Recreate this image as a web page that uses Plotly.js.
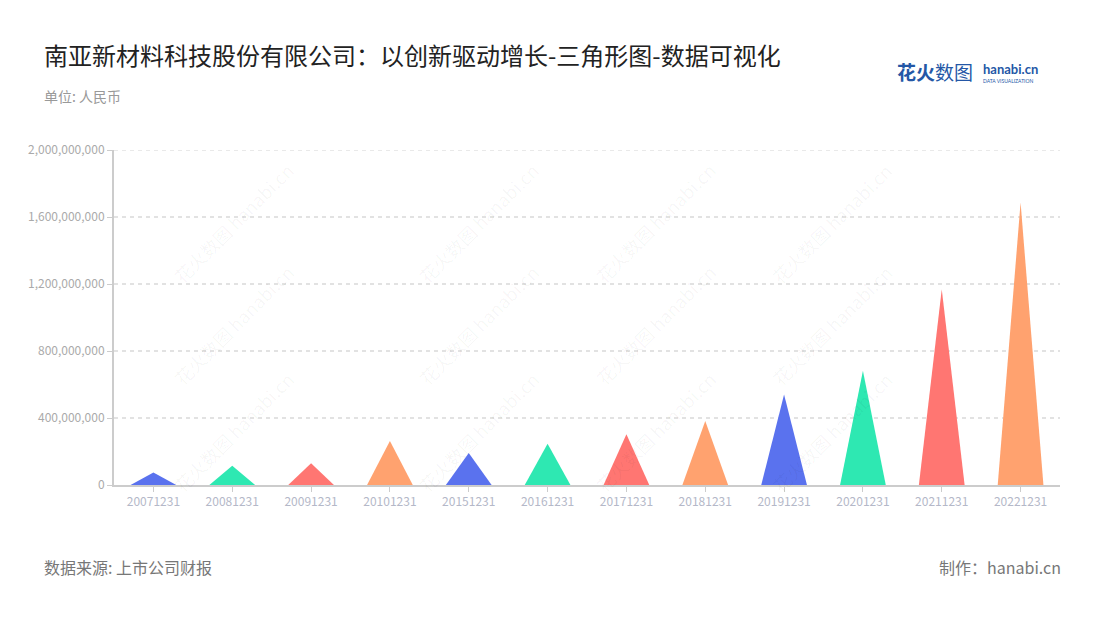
<!DOCTYPE html>
<html><head><meta charset="utf-8">
<script src="https://cdn.plot.ly/plotly-3.0.1.min.js"></script>
<style>html,body{margin:0;padding:0;background:#fff;}#chart{width:1100px;height:620px;}</style>
</head><body><div id="chart"></div>
<script>
const categories = ["20071231","20081231","20091231","20101231","20151231","20161231","20171231","20181231","20191231","20201231","20211231","20221231"];
const values = [75000000,115000000,130000000,263000000,191000000,247000000,303000000,382000000,541000000,682000000,1168000000,1686000000];
const palette = ["#5a72ee","#2ee8b2","#ff7672","#ffa26f"];
const yTicks = [0,400000000,800000000,1200000000,1600000000,2000000000];

const halfW = 0.29;
const traces = categories.map((c,i)=>({
  type:'scatter', mode:'lines', fill:'toself',
  x:[i-halfW, i, i+halfW, i-halfW],
  y:[0, values[i], 0, 0],
  line:{width:0, color:palette[i%4]},
  fillcolor:palette[i%4],
  hoverinfo:'skip', showlegend:false
}));

const font = '"Noto Sans CJK SC","Noto Sans",sans-serif';
const annotations = [];
// faint watermarks
const wmX = [0.054, 0.313, 0.572, 0.831];
const wmY = [0.985, 0.478, -0.045];
wmY.forEach(yy=>wmX.forEach(xx=>{
  annotations.push({text:'花火数图 hanabi.cn', xref:'paper', yref:'paper', x:xx, y:yy, showarrow:false, textangle:-45, font:{size:18, color:'rgba(0,0,0,0.04)', family:font}});
}));
annotations.push(
  {text:'南亚新材料科技股份有限公司：以创新驱动增长-三角形图-数据可视化', xref:'paper', yref:'paper', x:-0.076, y:1.284, xanchor:'left', yanchor:'middle', showarrow:false, font:{size:24, color:'#222', family:font}},
  {text:'单位: 人民币', xref:'paper', yref:'paper', x:-0.076, y:1.161, xanchor:'left', yanchor:'middle', showarrow:false, font:{size:14, color:'#999', family:font}},
  {text:'数据来源: 上市公司财报', xref:'paper', yref:'paper', x:-0.076, y:-0.245, xanchor:'left', yanchor:'middle', showarrow:false, font:{size:16, color:'#777', family:font}},
  {text:'制作：hanabi.cn', xref:'paper', yref:'paper', x:1.003, y:-0.245, xanchor:'right', yanchor:'middle', showarrow:false, font:{size:16, color:'#777', family:font}},
  {text:'<b>花火</b>数图', xref:'paper', yref:'paper', x:0.826, y:1.233, xanchor:'left', yanchor:'middle', showarrow:false, font:{size:19, color:'#2457a6', family:font}},
  {text:'<b>hanabi.cn</b>', xref:'paper', yref:'paper', x:0.916, y:1.243, xanchor:'left', yanchor:'middle', showarrow:false, font:{size:13, color:'#2457a6', family:'Lato, sans-serif'}},
  {text:'DATA VISUALIZATION', xref:'paper', yref:'paper', x:0.917, y:1.206, xanchor:'left', yanchor:'middle', showarrow:false, font:{size:5, color:'#2457a6', family:'Lato, sans-serif'}}
);

const layout = {
  width:1100, height:620,
  margin:{l:114, r:40, t:150, b:135},
  paper_bgcolor:'#fff', plot_bgcolor:'#fff',
  showlegend:false,
  xaxis:{
    range:[-0.5, 11.5], tickmode:'array', tickvals:categories.map((c,i)=>i), ticktext:categories,
    showgrid:false, zeroline:false, showline:true, linecolor:'#ccc', linewidth:2,
    ticks:'outside', ticklen:5, tickcolor:'#ccc', tickfont:{size:12, color:'#b4b8c8', family:font}, fixedrange:true
  },
  yaxis:{
    range:[0, yTicks[yTicks.length-1]], tickmode:'array', tickvals:yTicks, tickformat:',d',
    showgrid:true, gridcolor:'#e2e2e2', griddash:'4px,4px', gridwidth:1.5,
    zeroline:false, showline:true, linecolor:'#ccc', linewidth:2,
    ticks:'outside', ticklen:5, tickcolor:'#ccc', tickfont:{size:12, color:'#aaa', family:font}, fixedrange:true
  },
  shapes:[{type:'line', xref:'paper', yref:'y', x0:0, x1:1, y0:yTicks[yTicks.length-1], y1:yTicks[yTicks.length-1], line:{color:'#e2e2e2', width:1.5, dash:'4px,4px'}, layer:'below'}],
  annotations: annotations
};
Plotly.newPlot('chart', traces, layout, {displayModeBar:false, staticPlot:true});
</script></body></html>
